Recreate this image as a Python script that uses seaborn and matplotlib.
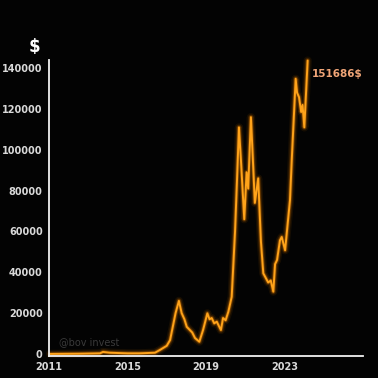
import matplotlib
matplotlib.use("Agg")
import matplotlib.pyplot as plt
import seaborn as sns
import pandas as pd
import numpy as np

years = [2011.05, 2012.5, 2013.6, 2013.75, 2014.1, 2015.0, 2015.6, 2016.4, 2016.66, 2017.0,
         2017.17, 2017.45, 2017.62, 2017.76, 2017.9, 2018.02, 2018.18, 2018.3, 2018.44, 2018.66, 2018.85,
         2019.07, 2019.18, 2019.29, 2019.42, 2019.55, 2019.76, 2019.87, 2020.0, 2020.14, 2020.31, 2020.48,
         2020.58, 2020.68, 2020.78, 2020.95, 2021.07, 2021.15, 2021.29, 2021.39, 2021.49, 2021.66, 2021.8,
         2021.92, 2022.06, 2022.17, 2022.3, 2022.43, 2022.52, 2022.62, 2022.77, 2022.86, 2023.03,
         2023.28, 2023.37, 2023.57, 2023.64, 2023.74, 2023.85, 2023.92, 2024.01, 2024.18]
prices = [0, 100, 300, 1000, 600, 300, 300, 600, 2000, 4000,
          6800, 20000, 26000, 20000, 17000, 13300, 11700, 10500, 7800, 6000, 11700,
          19900, 17000, 17600, 15000, 15800, 11700, 17600, 16500, 20700, 28000, 60000,
          85000, 111000, 95000, 66000, 89000, 81000, 116000, 95000, 74000, 86000, 55000,
          39500, 37000, 35000, 36000, 30500, 44000, 46000, 55700, 57300, 50800,
          75300, 95000, 134800, 128000, 125800, 118500, 122000, 111000, 143700]
y_ticks = [0, 20000, 40000, 60000, 80000, 100000, 120000, 140000]
x_ticks = [2011, 2015, 2019, 2023]
last_label = "151686$"
currency = "$"
watermark = "@bov invest"

df = pd.DataFrame({"year": years, "price": prices})

sns.set_style("dark", {"axes.facecolor": "#030303", "figure.facecolor": "#030303"})
fig = plt.figure(figsize=(3.78, 3.78), dpi=100)
ax = fig.add_axes([0.1296, 0.0582, 0.8307, 0.7831])
ax.set_facecolor("#030303")

# glow layers
for lw, a in [(6, 0.08), (4, 0.15), (2.6, 0.3)]:
    sns.lineplot(data=df, x="year", y="price", ax=ax, color="#ff8a00", linewidth=lw, alpha=a)
sns.lineplot(data=df, x="year", y="price", ax=ax, color="#ffa31a", linewidth=1.4)
for ln in ax.lines:
    ln.set_clip_on(False)

ax.set_xlim(2011, 2027)
ax.set_ylim(-1000, 144000)
ax.set_xticks(x_ticks)
ax.set_xticklabels([str(v) for v in x_ticks])
ax.set_yticks(y_ticks)
ax.set_yticklabels([str(v) for v in y_ticks])
ax.set_xlabel("")
ax.set_ylabel("")
ax.grid(False)

for s in ["top", "right"]:
    ax.spines[s].set_visible(False)
for s in ["left", "bottom"]:
    ax.spines[s].set_visible(True)
    ax.spines[s].set_color("#f2f2f2")
    ax.spines[s].set_linewidth(1.3)

ax.tick_params(axis="both", colors="#f2f2f2", length=3, width=1.2, direction="out",
               labelsize=7, labelcolor="#d9d9d9", pad=1.5)
for lab in ax.get_xticklabels() + ax.get_yticklabels():
    lab.set_fontweight("bold")

fig.text(34 / 378, 1 - 47 / 378, currency, color="white", fontsize=12, fontweight="bold",
         ha="center", va="center")
ax.text(years[-1] + 0.22, 137000, last_label, color="#f0a577", fontsize=7.5,
        fontweight="bold", ha="left", va="center")
ax.text(2011.5, 6000, watermark, color="#3a3a3a", fontsize=7, ha="left", va="center")

fig.savefig("out.png", dpi=100, facecolor="#030303")
